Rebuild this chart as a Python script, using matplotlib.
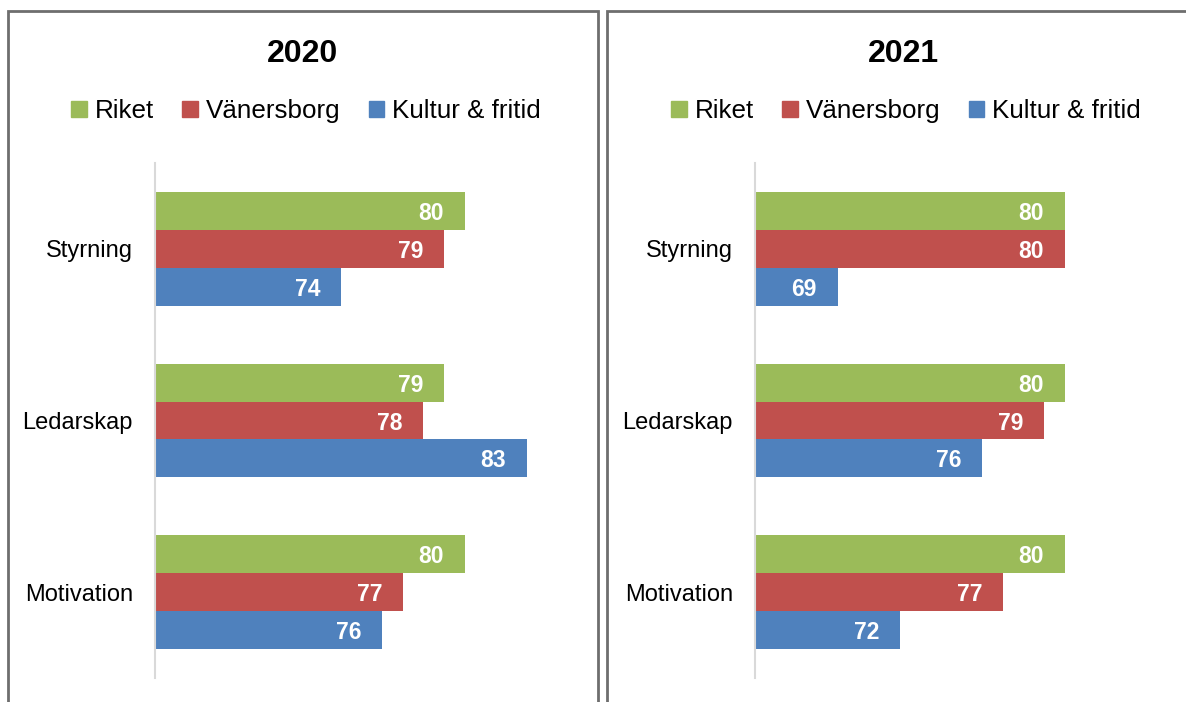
import matplotlib.pyplot as plt
import numpy as np
from matplotlib.patches import Rectangle

# Données
kategorier = ['Styrning', 'Ledarskap', 'Motivation']
serier = ['Riket', 'Vänersborg', 'Kultur & fritid']
farger = ['#9BBB59', '#C0504D', '#4F81BD']

ar = ['2020', '2021']
riket = {'2020': [80, 79, 80], '2021': [80, 80, 80]}
vanersborg = {'2020': [79, 78, 77], '2021': [80, 79, 77]}
kultur = {'2020': [74, 83, 76], '2021': [69, 76, 72]}

plt.rcParams['font.family'] = ['Liberation Sans', 'DejaVu Sans']

W, H = 1186, 702
fig = plt.figure(figsize=(W / 100, H / 100), dpi=100)

def fx(px):
    return px / W

def fy(py):
    return 1 - py / H

# ramar runt panelerna
for x0, x1 in [(8, 598), (607, 1200)]:
    fig.patches.append(Rectangle((fx(x0), fy(760)), fx(x1 - x0), (760 - 11) / H,
                                 transform=fig.transFigure, fill=False,
                                 edgecolor='#6e6e6e', linewidth=2, clip_on=False))

panel_x = [155, 755]
panel_center = [303, 903]
bar_h = 38 / 171.7

for i, a in enumerate(ar):
    ax = fig.add_axes([fx(panel_x[i]), fy(678), fx(413), 515 / H])
    y = np.arange(len(kategorier))
    data = [riket[a], vanersborg[a], kultur[a]]
    for j, (namn, vals) in enumerate(zip(serier, data)):
        pos = y + (j - 1) * bar_h
        bars = ax.barh(pos, vals, height=bar_h, left=0, color=farger[j], label=namn)
        for b, v in zip(bars, vals):
            ax.text(v - 1.0, b.get_y() + b.get_height() / 2, f'{v}', color='white',
                    fontsize=16.5, fontweight='bold', ha='right', va='center_baseline')
    ax.set_xlim(65, 85)
    ax.set_ylim(len(kategorier) - 0.5, -0.5)
    ax.set_yticks(y)
    ax.set_yticklabels(kategorier, fontsize=17, va='center_baseline')
    ax.tick_params(axis='y', length=0, pad=16)
    ax.set_xticks([])
    for s in ['top', 'right', 'bottom']:
        ax.spines[s].set_visible(False)
    ax.spines['left'].set_color('#d9d9d9')
    ax.spines['left'].set_linewidth(1.5)

    fig.text(fx(panel_center[i]), fy(51), a, fontsize=23, fontweight='bold',
             ha='center', va='center_baseline')
    handles = [Rectangle((0, 0), 1, 1, color=c) for c in farger]
    fig.legend(handles, serier, loc='center', ncol=3, frameon=False,
               bbox_to_anchor=(fx(panel_center[i] + 3), fy(111)),
               fontsize=18.7, handlelength=0.6, handleheight=0.6,
               handletextpad=0.3, columnspacing=1.1)

fig.savefig('out.png', dpi=100)
